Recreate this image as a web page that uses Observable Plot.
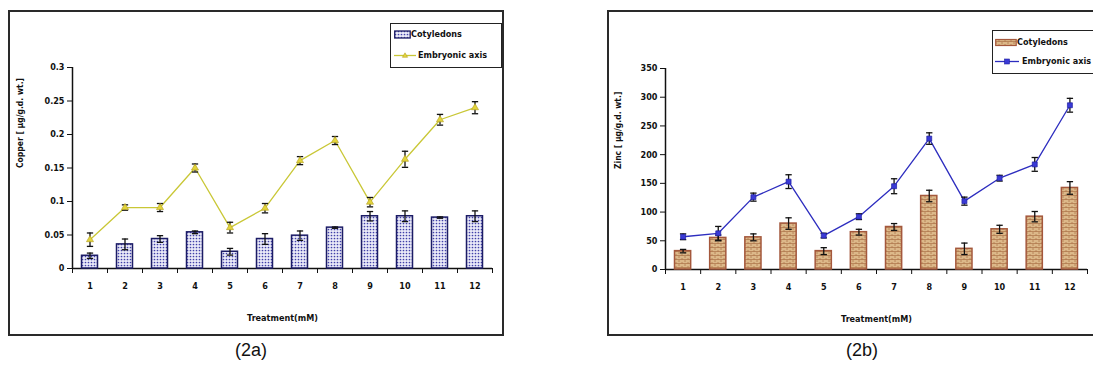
<!DOCTYPE html>
<html>
<head>
<meta charset="utf-8">
<script src="https://cdn.jsdelivr.net/npm/d3@7"></script>
<script src="https://cdn.jsdelivr.net/npm/@observablehq/plot@0.6"></script>
<style>
  html, body { margin: 0; padding: 0; background: #fff; }
  #wrap { position: relative; width: 1093px; height: 367px; overflow: hidden; background: #fff;
          font-family: "Liberation Sans Narrow", "DejaVu Sans Condensed", "Liberation Sans", sans-serif; }
  .frame { position: absolute; border: 2px solid #2a2a2a; box-sizing: border-box; }
  .plot { position: absolute; top: 0; }
  .legend { position: absolute; border: 1.6px solid #222; background: #fff; box-sizing: border-box; }
  .legend .row { position: absolute; left: 0; display: flex; align-items: center; font-size: 9px; color: #111; white-space: nowrap; font-weight: 600; }
  .caption { position: absolute; top: 340px; font-family: "Liberation Sans Narrow", "Liberation Sans", sans-serif; font-size: 18px; color: #111; transform: translateX(-50%); }
</style>
</head>
<body>
<div id="wrap">
  <div class="frame" style="left:8px;top:10px;width:496px;height:326px"></div>
  <div class="frame" style="left:607px;top:10px;width:500px;height:326px"></div>
  <div id="plotA" class="plot" style="left:0px"></div>
  <div id="plotB" class="plot" style="left:540px"></div>

  <div class="legend" style="left:390px;top:23px;width:112px;height:45px">
    <div class="row" style="top:5px;left:3px">
      <svg width="17" height="9"><rect x="0.7" y="1" width="15.5" height="7" fill="url(#dotsA)" stroke="#1c1c66" stroke-width="1.3"/></svg>
      <span>Cotyledons</span>
    </div>
    <div class="row" style="top:26px;left:3px">
      <svg width="22" height="9"><line x1="0" y1="4.5" x2="22" y2="4.5" stroke="#c9c736" stroke-width="1.3"/><path d="M11,1.8 L13.6,6.3 L8.4,6.3 Z" fill="#e2d43a" stroke="#b9a52a" stroke-width="0.6"/></svg>
      <span style="margin-left:2px">Embryonic axis</span>
    </div>
  </div>

  <div class="legend" style="left:992px;top:30px;width:120px;height:44px">
    <div class="row" style="top:6px;left:2px">
      <svg width="22" height="9"><rect x="0.7" y="1.5" width="20.5" height="6" fill="url(#brickB)" stroke="#a4583c" stroke-width="1.2"/></svg>
      <span>Cotyledons</span>
    </div>
    <div class="row" style="top:25px;left:2px">
      <svg width="24" height="9"><line x1="0" y1="4.5" x2="24" y2="4.5" stroke="#2d2dbf" stroke-width="1.3"/><rect x="9.5" y="2" width="5" height="5" fill="#3a3ad6" stroke="#2020a0" stroke-width="0.6"/></svg>
      <span style="margin-left:3px">Embryonic axis</span>
    </div>
  </div>

  <div class="caption" style="left:251px">(2a)</div>
  <div class="caption" style="left:862px">(2b)</div>
</div>

<script>
// ---------- data ----------
const treatments = [1, 2, 3, 4, 5, 6, 7, 8, 9, 10, 11, 12];

// (2a) Copper [µg/g.d. wt.]
const copperCotyledons    = [0.019, 0.036, 0.044, 0.054, 0.025, 0.044, 0.049, 0.061, 0.078, 0.078, 0.076, 0.078];
const copperCotyledonsErr = [0.004, 0.008, 0.005, 0.002, 0.005, 0.008, 0.007, 0.001, 0.007, 0.008, 0.001, 0.008];
const copperEmbryonic     = [0.043, 0.091, 0.091, 0.150, 0.061, 0.090, 0.161, 0.191, 0.099, 0.163, 0.222, 0.240];
const copperEmbryonicErr  = [0.010, 0.004, 0.006, 0.006, 0.008, 0.007, 0.006, 0.006, 0.007, 0.012, 0.008, 0.009];
const copperTicks = [0, 0.05, 0.1, 0.15, 0.2, 0.25, 0.3];

// (2b) Zinc [µg/g.d. wt.]
const zincCotyledons    = [32, 55, 56, 80, 32, 65, 74, 128, 36, 70, 92, 142];
const zincCotyledonsErr = [3, 5, 6, 10, 6, 5, 6, 10, 10, 7, 9, 11];
const zincEmbryonic     = [57, 63, 126, 153, 59, 92, 145, 228, 119, 159, 183, 286];
const zincEmbryonicErr  = [5, 12, 7, 12, 4, 5, 13, 10, 7, 5, 12, 12];
const zincTicks = [0, 50, 100, 150, 200, 250, 300, 350];

const xTitle = "Treatment(mM)";
const copperLabel = "Copper [ µg/g.d. wt.]";
const zincLabel = "Zinc [ µg/g.d. wt.]";

// ---------- helpers ----------
const boundaries = treatments.map(t => t - 0.5).concat([treatments[treatments.length - 1] + 0.5]);

function rows(cot, cotErr, emb, embErr) {
  return treatments.map((t, i) => ({t, c: cot[i], ce: cotErr[i], e: emb[i], ee: embErr[i]}));
}

function panel({data, yMax, ticks, yLabel, labelDx, barFill, barStroke, lineColor, symbol, dotFill, dotStroke, dotR,
                width, marginLeft, marginRight, marginTop, marginBottom}) {
  const fontFam = '"Liberation Sans Narrow", "DejaVu Sans Condensed", "Liberation Sans", sans-serif';
  return Plot.plot({
    width, height: 340, marginLeft, marginRight, marginTop, marginBottom,
    style: {fontFamily: fontFam, fontSize: "9px", color: "#111", background: "transparent", overflow: "visible"},
    x: {type: "linear", domain: [0.5, 12.5], axis: null},
    y: {domain: [0, yMax], axis: null},
    marks: [
      // axes
      Plot.ruleY([0], {stroke: "#111", strokeWidth: 1.5}),
      Plot.ruleX([0.5], {y1: 0, y2: yMax, stroke: "#111", strokeWidth: 1.5}),
      Plot.axisY({ticks, tickSize: 5, tickPadding: 3, tickFormat: d => String(d), label: null, anchor: "left", stroke: "#111", fontWeight: 600}),
      Plot.axisX({ticks: boundaries, tickSize: 5, tickFormat: () => "", label: null, stroke: "#111"}),
      Plot.axisX({ticks: treatments, tickSize: 0, tickPadding: 14, tickFormat: d => String(d), label: null, fontWeight: 600}),
      // bars (Cotyledons)
      Plot.rect(data, {x1: d => d.t - 0.5, x2: d => d.t + 0.5, y1: 0, y2: "c", insetLeft: 9.5, insetRight: 9.5,
                       fill: barFill, stroke: barStroke, strokeWidth: 1.5}),
      Plot.ruleX(data, {x: "t", y1: d => d.c - d.ce, y2: d => d.c + d.ce, stroke: "#111", strokeWidth: 1.3}),
      Plot.link(data, {x1: d => d.t - 0.09, x2: d => d.t + 0.09, y1: d => d.c + d.ce, y2: d => d.c + d.ce, stroke: "#111", strokeWidth: 1.3}),
      Plot.link(data, {x1: d => d.t - 0.09, x2: d => d.t + 0.09, y1: d => d.c - d.ce, y2: d => d.c - d.ce, stroke: "#111", strokeWidth: 1.3}),
      // line (Embryonic axis)
      Plot.line(data, {x: "t", y: "e", stroke: lineColor, strokeWidth: 1.3}),
      Plot.ruleX(data, {x: "t", y1: d => d.e - d.ee, y2: d => d.e + d.ee, stroke: "#111", strokeWidth: 1.3}),
      Plot.link(data, {x1: d => d.t - 0.09, x2: d => d.t + 0.09, y1: d => d.e + d.ee, y2: d => d.e + d.ee, stroke: "#111", strokeWidth: 1.3}),
      Plot.link(data, {x1: d => d.t - 0.09, x2: d => d.t + 0.09, y1: d => d.e - d.ee, y2: d => d.e - d.ee, stroke: "#111", strokeWidth: 1.3}),
      Plot.dot(data, {x: "t", y: "e", symbol, r: dotR, fill: dotFill, stroke: dotStroke, strokeWidth: 0.7}),
      // titles
      Plot.text([xTitle], {text: d => d, frameAnchor: "bottom", dy: 52, fontWeight: "bold", fontSize: 9}),
      Plot.text([yLabel], {text: d => d, frameAnchor: "left", dx: labelDx, rotate: -90, fontWeight: "bold", fontSize: 8.5})
    ]
  });
}

// ---------- (2a) ----------
const svgA = panel({
  data: rows(copperCotyledons, copperCotyledonsErr, copperEmbryonic, copperEmbryonicErr),
  yMax: 0.3, ticks: copperTicks, yLabel: copperLabel, labelDx: -52,
  barFill: "url(#dotsA)", barStroke: "#1c1c66", lineColor: "#c9c736",
  symbol: "triangle", dotFill: "#e2d43a", dotStroke: "#b9a52a", dotR: 2.6,
  width: 510, marginLeft: 72, marginRight: 18, marginTop: 67, marginBottom: 72
});
document.getElementById("plotA").append(svgA);

// ---------- (2b) ----------
const svgB = panel({
  data: rows(zincCotyledons, zincCotyledonsErr, zincEmbryonic, zincEmbryonicErr),
  yMax: 350, ticks: zincTicks, yLabel: zincLabel, labelDx: -47,
  barFill: "url(#brickB)", barStroke: "#a4583c", lineColor: "#2d2dbf",
  symbol: "square", dotFill: "#3a3ad6", dotStroke: "#2020a0", dotR: 2.8,
  width: 553, marginLeft: 125, marginRight: 6, marginTop: 68, marginBottom: 71
});
document.getElementById("plotB").append(svgB);

// ---------- fill patterns ----------
const defsA = d3.select(svgA).insert("defs", ":first-child");
const pA = defsA.append("pattern").attr("id", "dotsA").attr("patternUnits", "userSpaceOnUse").attr("width", 3).attr("height", 3);
pA.append("rect").attr("width", 3).attr("height", 3).attr("fill", "#eaeaf8");
pA.append("circle").attr("cx", 1.5).attr("cy", 1.5).attr("r", 0.85).attr("fill", "#4040a8");

const defsB = d3.select(svgB).insert("defs", ":first-child");
const pB = defsB.append("pattern").attr("id", "brickB").attr("patternUnits", "userSpaceOnUse").attr("width", 6).attr("height", 4);
pB.append("rect").attr("width", 6).attr("height", 4).attr("fill", "#dcb889");
pB.append("path").attr("d", "M0,3.5H6M1,0V2M4,2V4").attr("stroke", "#b0784e").attr("stroke-width", 0.8);
</script>
</body>
</html>
